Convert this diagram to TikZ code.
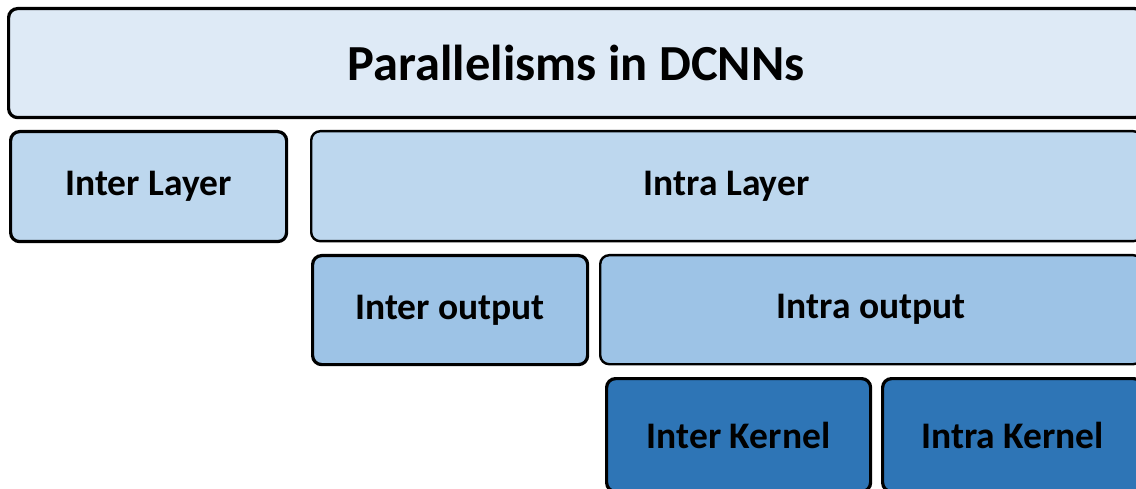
\documentclass[tikz,border=0pt]{standalone}
\usepackage{fontspec}
\setmainfont{Carlito}
\definecolor{paleblue}{HTML}{DEEAF6}
\definecolor{lightblue}{HTML}{BDD7EE}
\definecolor{midblue}{HTML}{9DC3E6}
\definecolor{deepblue}{HTML}{2E75B6}
\tikzset{
  tier/.style={draw=black, rounded corners=9pt, line width=3.2pt, anchor=north west,
    inner sep=0pt, font=\bfseries\fontsize{37.5}{44}\selectfont, text=black},
  thintier/.style={tier, line width=2.4pt},
}
\begin{document}
\begin{tikzpicture}[x=1pt,y=-1pt]
\useasboundingbox (0,0) rectangle (1136,489);
\clip (0,0) rectangle (1136,489);
% top level
\node[tier, fill=paleblue, minimum width=1135pt, minimum height=109pt,
  font=\bfseries\fontsize{50.5}{58}\selectfont] (root) at (7,7) {Parallelisms in DCNNs};
% layer level
\node[tier, fill=lightblue, minimum width=276pt, minimum height=110pt] (interlayer) at (9,130) {Inter Layer};
\node[thintier, fill=lightblue, minimum width=831pt, minimum height=110pt] (intralayer) at (310,130) {Intra Layer};
% output level
\node[tier, fill=midblue, minimum width=275pt, minimum height=109pt] (interout) at (311,254) {Inter output};
\node[thintier, fill=midblue, minimum width=542pt, minimum height=109pt] (intraout) at (599,254) {Intra output};
% kernel level
\node[tier, fill=deepblue, minimum width=264pt, minimum height=113pt] (interkernel) at (605,377) {Inter Kernel};
\node[tier, fill=deepblue, minimum width=260pt, minimum height=113pt] (intrakernel) at (881,377) {Intra Kernel};
\end{tikzpicture}
\end{document}
